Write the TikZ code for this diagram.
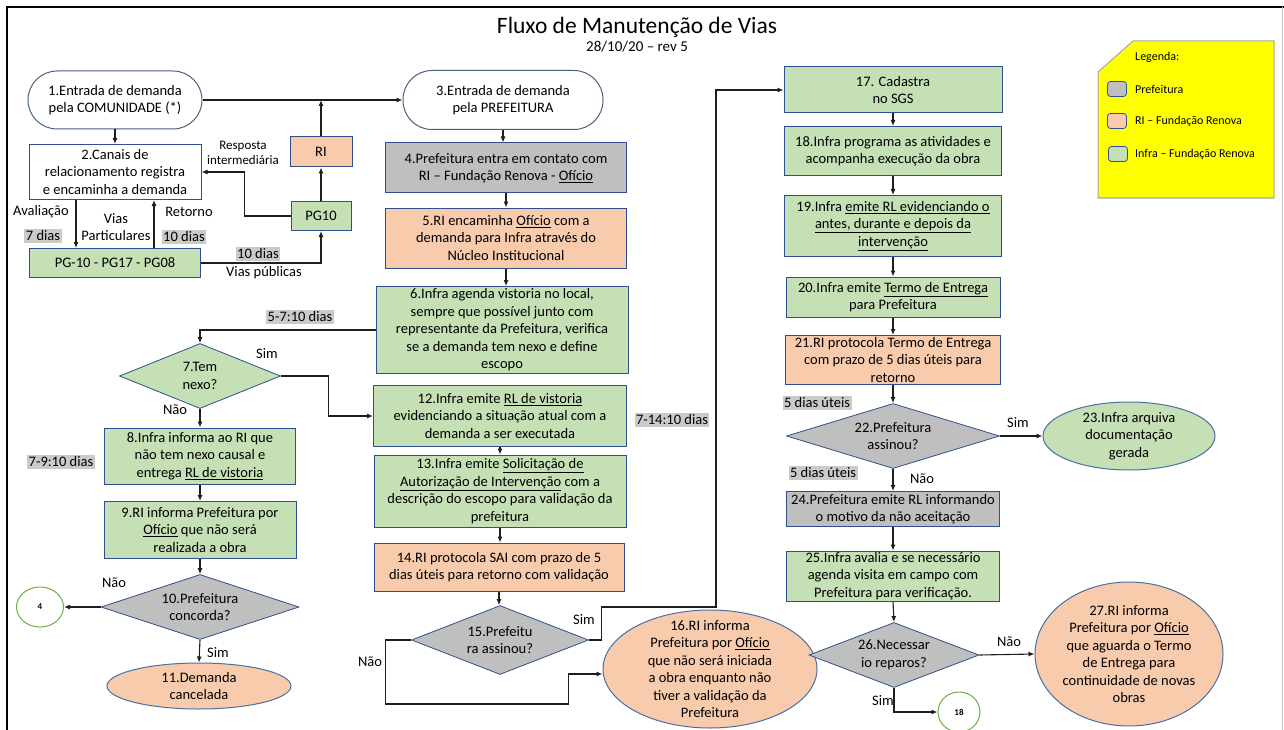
\documentclass[tikz,border=0pt]{standalone}
\usepackage{fontspec}
\setmainfont{Carlito}
\usetikzlibrary{positioning, arrows.meta, shapes.geometric}

\definecolor{infragreen}{HTML}{C5E0B4}
\definecolor{riorange}{HTML}{F8CBAD}
\definecolor{prefgray}{HTML}{BFBFBF}
\definecolor{boxline}{HTML}{2F4F8F}
\definecolor{termline}{HTML}{4A5F80}
\definecolor{ellline}{HTML}{4A6FA5}
\definecolor{circgreen}{HTML}{70AD47}
\definecolor{taggray}{HTML}{CACACA}
\definecolor{linecol}{HTML}{1E1E1E}
\definecolor{legendyellow}{HTML}{FFFF00}
\definecolor{legendline}{HTML}{A6A6A6}
\definecolor{framegray}{HTML}{BFBFBF}

\newcommand{\boxfont}{\fontsize{14.5}{17.5}\selectfont}
\newcommand{\smallfont}{\fontsize{13}{15}\selectfont}
\newcommand{\legendfont}{\fontsize{12}{13}\selectfont}
\newcommand{\tinyfont}{\fontsize{9}{10}\selectfont}

\begin{document}
\begin{tikzpicture}[x=1pt, y=-1pt, >={Latex[length=6pt, width=5pt]},
  flow/.style={->, line width=1.1pt, draw=linecol},
  dims/.style 2 args={minimum width=#1pt, minimum height=#2pt},
  box/.style={rectangle, draw=boxline, line width=1pt, align=center, inner xsep=1pt, inner ysep=0pt, font=\boxfont},
  pref/.style={box, fill=prefgray},
  ri/.style={box, fill=riorange},
  infra/.style={box, fill=infragreen},
  chan/.style={box, fill=white},
  term/.style={box, draw=termline, fill=white, rounded corners=29pt},
  decision/.style={diamond, aspect=3, draw=boxline, line width=0.8pt, align=center, inner sep=-4pt, font=\boxfont},
  endpoint/.style={ellipse, draw=ellline, line width=1pt, align=center, inner xsep=-10pt, inner ysep=-12pt, font=\boxfont},
  connector/.style={ellipse, draw=circgreen, line width=1pt, fill=white, inner sep=0pt, font=\tinyfont\bfseries},
  tag/.style={fill=taggray, inner sep=1.5pt, font=\boxfont},
  lbl/.style={inner sep=0pt, align=center, font=\boxfont},
  swatch/.style={rectangle, rounded corners=3pt, draw=boxline, line width=0.8pt, minimum width=19pt, minimum height=15pt}]

  \useasboundingbox (0,0) rectangle (1284,730);

  % Frame
  \draw[line width=2.5pt] (7,730) -- (7,7) -- (1284,7);
  \draw[framegray, line width=1pt] (1282,7) -- (1282,730);

  % Title
  \node[font=\fontsize{23.5}{27}\selectfont] (title) at (637,27) {Fluxo de Manutenção de Vias};
  \node[font=\fontsize{15}{17}\selectfont] (rev) at (637,47) {28/10/20 – rev 5};

  % Entrada pela comunidade
  \node[term, dims={174}{58}] (n1) at (115,100) {1.Entrada de demanda\\pela COMUNIDADE (*)};
  \node[chan, dims={172}{55}] (n2) at (115,172) {2.Canais de\\relacionamento registra\\e encaminha a demanda};
  \node[ri, dims={62}{30}] (ri) at (321,152) {RI};
  \node[infra, dims={60}{29}] (pg10) at (321,216) {PG10};
  \node[infra, dims={171}{29}] (pgs) at (115,263) {PG-10 - PG17 - PG08};

  \node[lbl, font=\smallfont] (resp) at (243,153) {Resposta\\intermediária};
  \node[lbl] (aval) at (41,212) {Avaliação};
  \node[tag] (d7) at (43,236) {7 dias};
  \node[lbl] (partic) at (116,227) {Vias\\Particulares};
  \node[lbl] (retorno) at (189,212) {Retorno};
  \node[tag] (d10a) at (184,237) {10 dias};
  \node[tag] (d10b) at (258,254) {10 dias};
  \node[lbl] (publ) at (264,273) {Vias públicas};

  % Entrada pela prefeitura
  \node[term, dims={200}{59}] (n3) at (503,100) {3.Entrada de demanda\\pela PREFEITURA};
  \node[pref, dims={241}{50}] (n4) at (506,168) {4.Prefeitura entra em contato com\\RI – Fundação Renova - \underline{Ofício}};
  \node[ri, dims={241}{60}] (n5) at (506,238) {5.RI encaminha \underline{Ofício} com a\\demanda para Infra através do\\Núcleo Institucional};
  \node[infra, dims={252}{87}] (n6) at (502,330) {6.Infra agenda vistoria no local,\\sempre que possível junto com\\representante da Prefeitura, verifica\\se a demanda tem nexo e define\\escopo};
  \node[infra, dims={253}{61}] (n12) at (500,416) {12.Infra emite \underline{RL de vistoria}\\evidenciando a situação atual com a\\demanda a ser executada};
  \node[infra, dims={252}{72}] (n13) at (500,491) {13.Infra emite \underline{Solicitação de}\\\underline{Autorização de Intervenção} com a\\descrição do escopo para validação da\\prefeitura};
  \node[ri, dims={250}{48}] (n14) at (499,567) {14.RI protocola SAI com prazo de 5\\dias úteis para retorno com validação};
  \node[decision, fill=prefgray, dims={177}{69}] (n15) at (500,640) {15.Prefeitu\\ra assinou?};
  \node[endpoint, fill=riorange, dims={214}{118}] (n16) at (710,669) {16.RI informa\\Prefeitura por \underline{Ofício}\\que não será iniciada\\a obra enquanto não\\tiver a validação da\\Prefeitura};

  \node[tag] (d5to7) at (300,317) {5-7:10 dias};
  \node[tag] (d7to14) at (672,420) {7-14:10 dias};
  \node[lbl] (sim15) at (584,620) {Sim};
  \node[lbl] (nao15) at (370,662) {Não};
  \coordinate (bendSim) at (716,607);

  % Nexo
  \node[decision, fill=infragreen, dims={161}{65}] (n7) at (200,376) {7.Tem\\nexo?};
  \node[infra, dims={191}{56}] (n8) at (200,456) {8.Infra informa ao RI que\\não tem nexo causal e\\entrega \underline{RL de vistoria}};
  \node[infra, dims={192}{57}] (n9) at (200,530) {9.RI informa Prefeitura por\\\underline{Ofício} que não será\\realizada a obra};
  \node[decision, fill=prefgray, dims={198}{65}] (n10) at (200,607) {10.Prefeitura\\concorda?};
  \node[connector, dims={47}{40}] (c4) at (40,607) {4};
  \node[endpoint, fill=riorange, dims={184}{46}] (n11) at (199,686) {11.Demanda\\cancelada};

  \node[lbl] (sim7) at (267,354) {Sim};
  \node[lbl] (nao7) at (175,410) {Não};
  \node[tag] (d7to9) at (61,462) {7-9:10 dias};
  \node[lbl] (nao10) at (114,583) {Não};
  \node[lbl] (sim10) at (218,653) {Sim};

  % Execucao da obra
  \node[infra, dims={218}{46}] (n17) at (893,90) {17. Cadastra\\no SGS};
  \node[infra, dims={217}{49}] (n18) at (893,151) {18.Infra programa as atividades e\\acompanha execução da obra};
  \node[infra, dims={217}{61}] (n19) at (893,226) {19.Infra \underline{emite RL evidenciando o}\\\underline{antes, durante e depois da}\\\underline{intervenção}};
  \node[infra, dims={214}{40}] (n20) at (893,297) {20.Infra emite \underline{Termo de Entrega}\\para Prefeitura};
  \node[ri, dims={215}{49}, inner ysep=-2pt] (n21) at (893,360) {21.RI protocola Termo de Entrega\\com prazo de 5 dias úteis para\\retorno};
  \node[decision, fill=prefgray, dims={213}{65}] (n22) at (893,436) {22.Prefeitura\\assinou?};
  \node[endpoint, fill=infragreen, dims={172}{68}] (n23) at (1129,436) {23.Infra arquiva\\documentação\\gerada};
  \node[pref, dims={213}{35}] (n24) at (893,509) {24.Prefeitura emite RL informando\\o motivo da não aceitação};
  \node[infra, dims={213}{50}, inner ysep=-2pt] (n25) at (893,576) {25.Infra avalia e se necessário\\agenda visita em campo com\\Prefeitura para verificação.};
  \node[decision, fill=prefgray, dims={170}{65}] (n26) at (894,655) {26.Necessar\\io reparos?};
  \node[endpoint, fill=riorange, dims={188}{144}] (n27) at (1129,654) {27.RI informa\\Prefeitura por \underline{Ofício}\\que aguarda o Termo\\de Entrega para\\continuidade de novas\\obras};
  \node[connector, dims={42}{40}] (c18) at (959,712) {18};

  \node[tag] (d5a) at (817,403) {5 dias úteis};
  \node[lbl] (sim22) at (1018,423) {Sim};
  \node[tag] (d5b) at (823,473) {5 dias úteis};
  \node[lbl] (nao22) at (922,479) {Não};
  \node[lbl] (nao26) at (1009,642) {Não};
  \node[lbl] (sim26) at (883,701) {Sim};

  % Legenda
  \draw[fill=legendyellow, draw=legendline, line width=1pt] (1133,41) -- (1274,41) -- (1274,198) -- (1098,198) -- (1098,72) -- cycle;
  \node[lbl, anchor=west, font=\legendfont] (legtitle) at (1135,57) {Legenda:};
  \node[swatch, fill=prefgray] (swPref) at (1117,89) {};
  \node[lbl, anchor=west, font=\legendfont] (txPref) at (1135,89) {Prefeitura};
  \node[swatch, fill=riorange] (swRi) at (1117,121) {};
  \node[lbl, anchor=west, font=\legendfont] (txRi) at (1135,121) {RI – Fundação Renova};
  \node[swatch, fill=infragreen] (swInfra) at (1118,154) {};
  \node[lbl, anchor=west, font=\legendfont] (txInfra) at (1135,154) {Infra – Fundação Renova};

  % Arrows
  \draw[flow] (n1.east) -- (n3.west);
  \draw[flow] (ri.north) -- (ri.north |- n1.east);
  \draw[flow] (pg10.north) -- (ri.south);
  \draw[flow] (pg10.west) -- ++(-46,0) |- (n2.east);
  \draw[flow] (n1.south) -- (n2.north);
  \draw[flow] ([xshift=-39pt]n2.south) -- ([xshift=-39pt]n2.south |- pgs.north);
  \draw[flow] ([xshift=39pt]pgs.north) -- ([xshift=39pt]pgs.north |- n2.south);
  \draw[flow] (pgs.east) -| (pg10.south);

  \draw[flow] (n3.south) -- (n3.south |- n4.north);
  \draw[flow] (n4.south) -- (n5.north);
  \draw[flow] (n5.south) -- (n5.south |- n6.north);
  \draw[flow] (n12.south) -- (n13.north);
  \draw[flow] (n13.south) -- (n13.south |- n14.north);
  \draw[flow] (n14.south) -- (n14.south |- n15.north);
  \draw[flow] (n15.east) -- ++(13,0) |- (bendSim) |- (n17.west);
  \draw[flow] (n15.west) -- ++(-26,0) -- ++(0,64) -- ++(183,0) |- ([yshift=-5pt]n16.west);

  \draw[flow] (n6.west) -| (n7.north);
  \draw[flow] (n7.east) -- ++(48,0) |- (n12.west);
  \draw[flow] (n7.south) -- (n8.north);
  \draw[flow] (n8.south) -- (n9.north);
  \draw[flow] (n9.south) -- (n10.north);
  \draw[flow] (n10.west) -- (c4.east);
  \draw[flow] (n10.south) -- (n11.north);

  \draw[flow] (n17.south) -- (n18.north);
  \draw[flow] (n18.south) -- (n19.north);
  \draw[flow] (n19.south) -- (n20.north);
  \draw[flow] (n20.south) -- (n21.north);
  \draw[flow] (n21.south) -- (n22.north);
  \draw[flow] (n22.east) -- (n23.west);
  \draw[flow] (n22.south) -- (n24.north);
  \draw[flow] (n24.south) -- (n25.north);
  \draw[flow] (n25.south) -- (n26.north);
  \draw[flow] (n26.east) -- (n27.west);
  \draw[flow] (n26.south) |- (c18.west);

\end{tikzpicture}
\end{document}
